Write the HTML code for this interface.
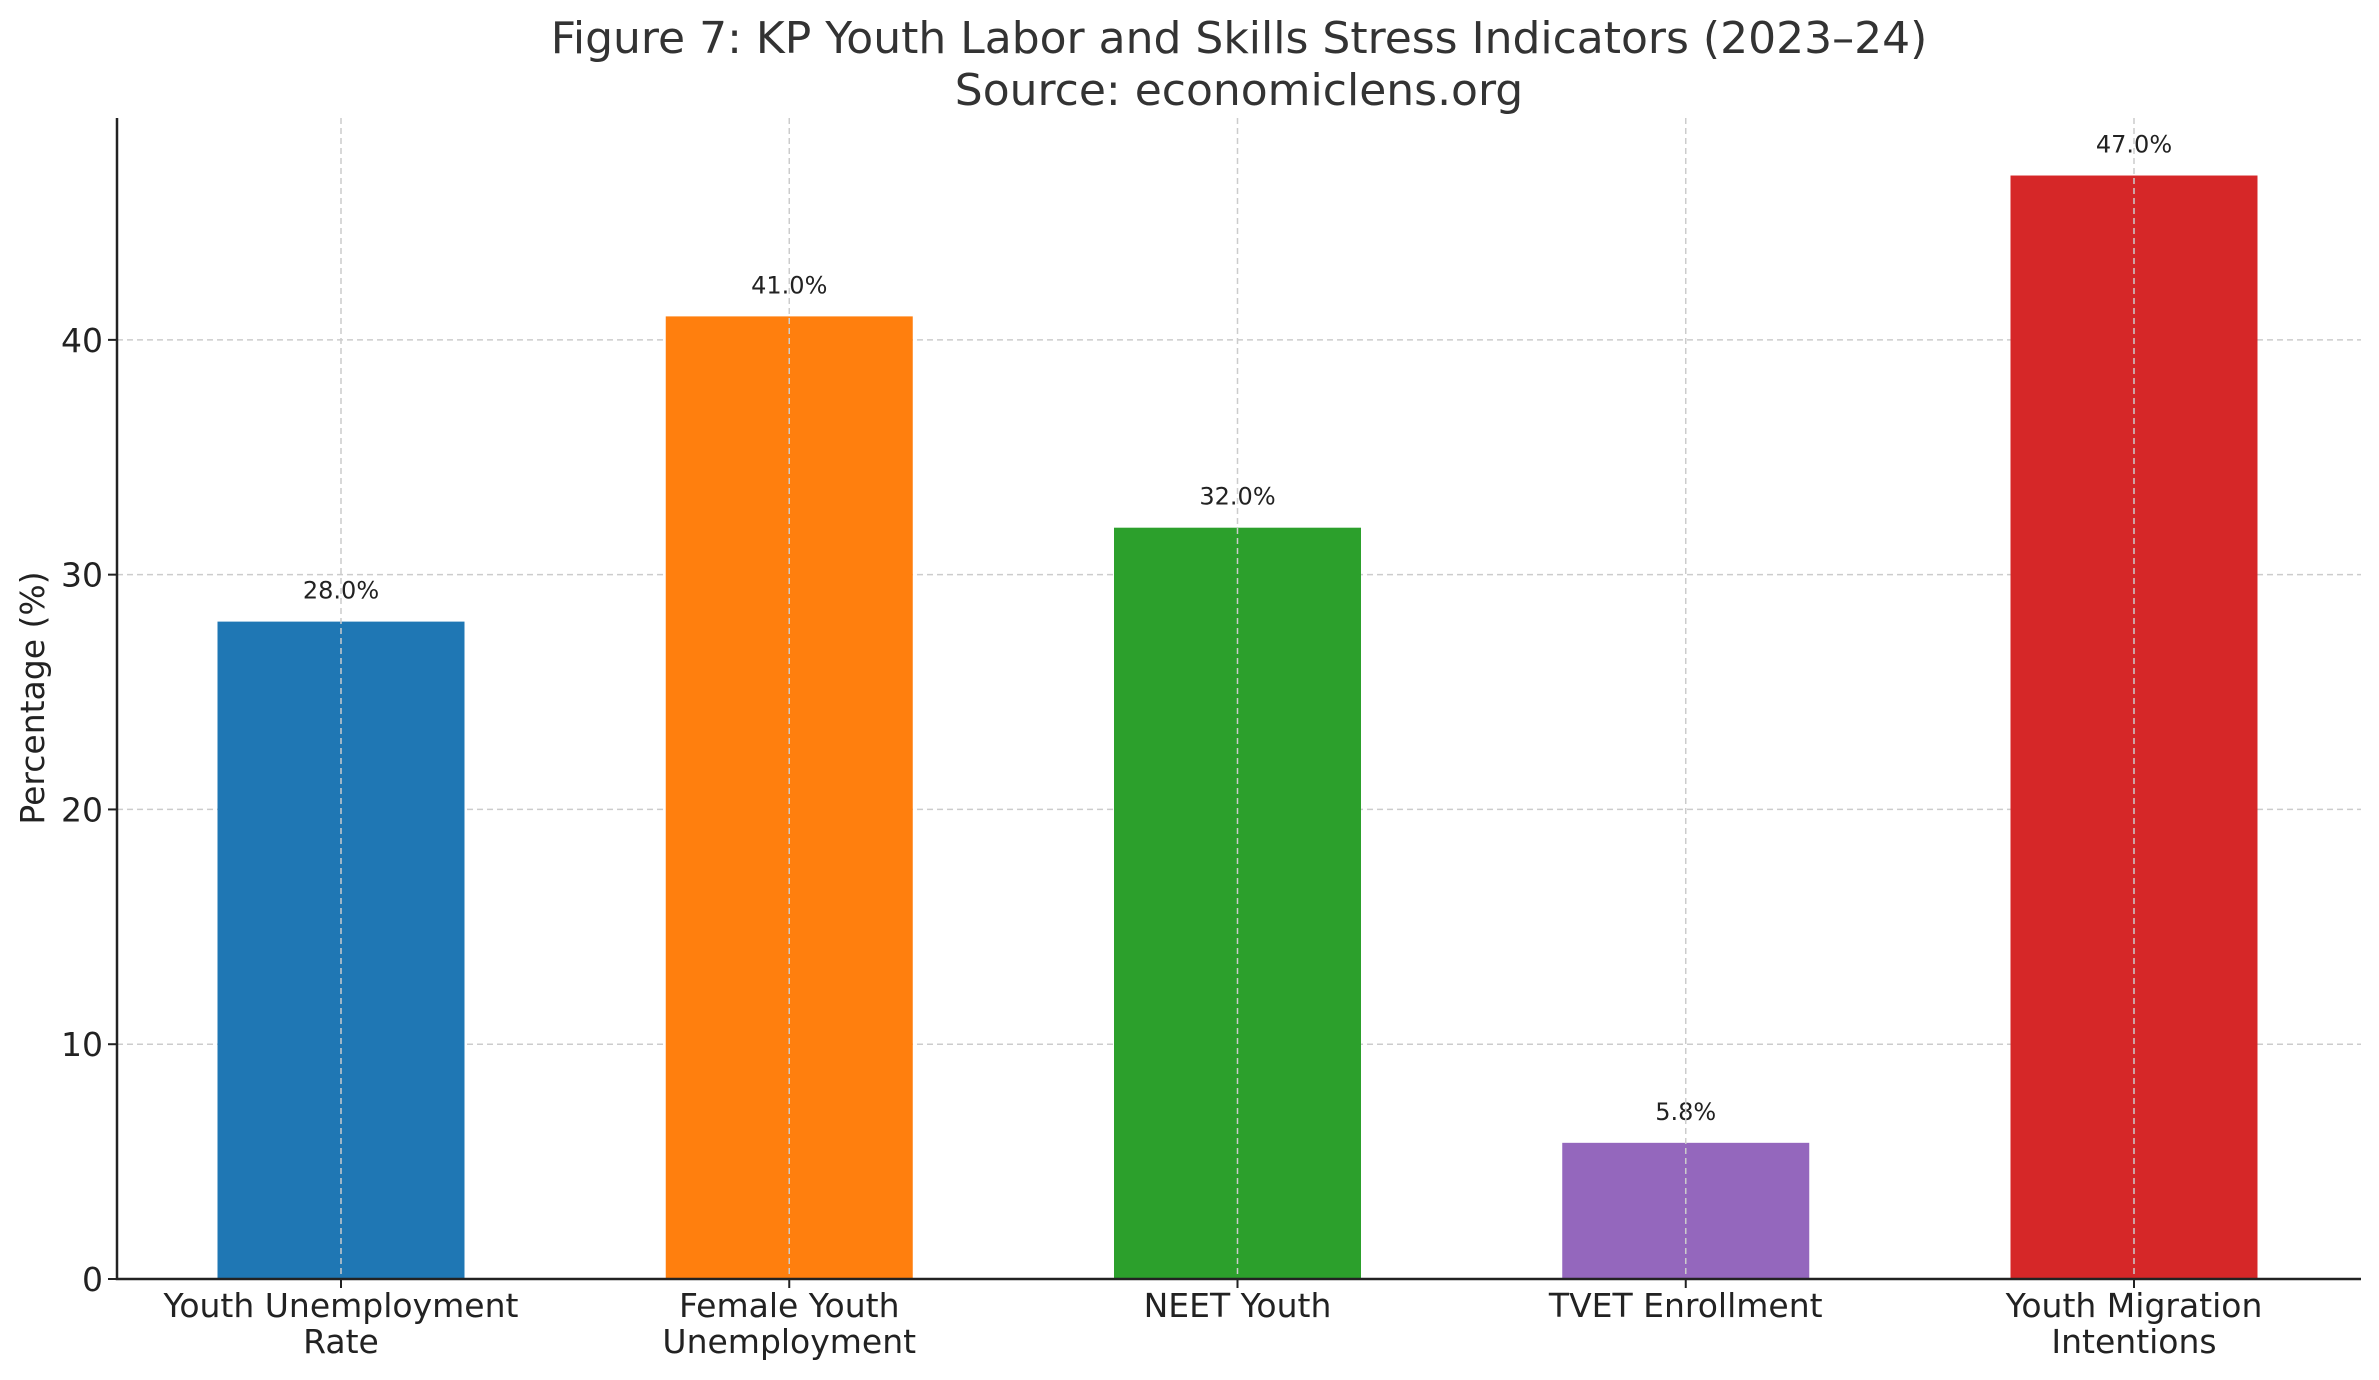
<!DOCTYPE html>
<html><head><meta charset="utf-8"><style>
body{margin:0;background:#fff}
svg{display:block;font-family:"DejaVu Sans","Liberation Sans",sans-serif}
</style></head><body>
<svg id="chart" width="2379" height="1380" viewBox="0 0 2379 1380">
<text x="1239" y="53" font-size="44" fill="#333" text-anchor="middle">Figure 7: KP Youth Labor and Skills Stress Indicators (2023–24)</text>
<text x="1239" y="105" font-size="44" fill="#333" text-anchor="middle">Source: economiclens.org</text>
<text transform="translate(44,698) rotate(-90)" font-size="33" fill="#222" text-anchor="middle">Percentage (%)</text>
<g id="grid"></g><g id="bars"></g><g id="labels"></g><g id="axes"></g>
</svg>
<script>
const categories=[["Youth Unemployment","Rate"],["Female Youth","Unemployment"],["NEET Youth"],["TVET Enrollment"],["Youth Migration","Intentions"]];
const values=[28.0,41.0,32.0,5.8,47.0];
const valueLabels=["28.0%","41.0%","32.0%","5.8%","47.0%"];
const colors=["#1f77b4","#ff7f0e","#2ca02c","#9467bd","#d62728"];
const yTicks=[0,10,20,30,40];
const L=117,R=2361,T=118,B=1279,YMAX=49.45;
const ns="http://www.w3.org/2000/svg";
const y=v=>B-(v/YMAX)*(B-T);
const step=(2134-341)/(categories.length-1);
const x=i=>341+i*step;
const bw=247;
function mk(t,a,p){const e=document.createElementNS(ns,t);for(const k in a)e.setAttribute(k,a[k]);document.getElementById(p).appendChild(e);return e;}
yTicks.forEach(t=>{
 if(t>0){const g=mk('line',{x1:L,x2:R,y1:y(t),y2:y(t),stroke:'#ccc','stroke-width':1.5,'stroke-dasharray':'6,4'},'grid');
 
 }
 const tk=mk('line',{x1:L-9,x2:L,y1:y(t),y2:y(t),stroke:'#222','stroke-width':2},'axes');
 
 
 const tl=mk('text',{x:L-14,y:y(t)+12,'font-size':33,fill:'#222','text-anchor':'end'},'axes');tl.textContent=t;
 
 
});
values.forEach((v,i)=>{
 const b=mk('rect',{x:x(i)-bw/2,y:y(v),width:bw,height:B-y(v),fill:colors[i]},'bars');
 
 
 const vl=mk('text',{x:x(i),y:y(v)-23,'font-size':24,fill:'#222','text-anchor':'middle'},'labels');vl.textContent=valueLabels[i];
 
 
 const tk=mk('line',{x1:x(i),x2:x(i),y1:B,y2:B+9,stroke:'#222','stroke-width':2},'axes');
 
 
 categories[i].forEach((s,j)=>{const t=mk('text',{x:x(i),y:B+38+j*36,'font-size':33,fill:'#222','text-anchor':'middle'},'axes');t.textContent=s;
 
 });
});
values.forEach((v,i)=>{const g=mk('line',{x1:x(i),x2:x(i),y1:T,y2:B,stroke:'#ccc','stroke-width':1.5,'stroke-dasharray':'6,4'},'labels');
 
 });
const ax=mk('path',{d:`M${L} ${T}V${B}H${R}`,fill:'none',stroke:'#222','stroke-width':2.5},'axes');


</script>
</body></html>
